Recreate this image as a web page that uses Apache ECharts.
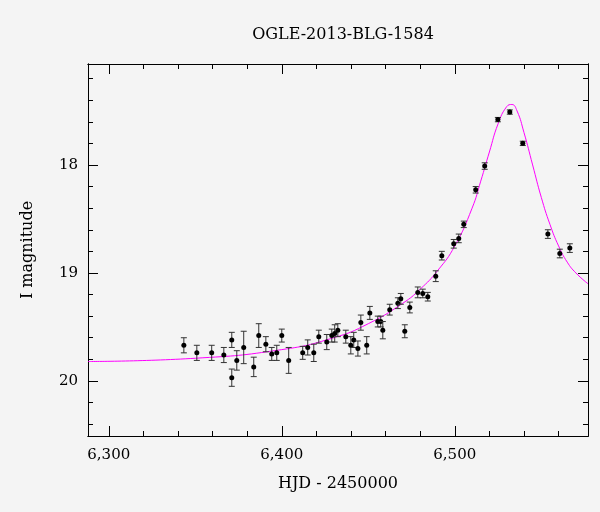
<!DOCTYPE html>
<html>
<head>
<meta charset="utf-8">
<script src="https://cdn.jsdelivr.net/npm/echarts@6/dist/echarts.min.js"></script>
<style>
  html, body { margin: 0; padding: 0; background: #f4f4f4; }
  #chart { width: 600px; height: 512px; }
</style>
</head>
<body>
<div id="chart"></div>
<script>
// observations: HJD-2450000, I mag, error
var obsHjd = [6343.4, 6350.9, 6359.5, 6366.5, 6371.1, 6371.1, 6374.0, 6378.0, 6383.8, 6386.7,
  6390.8, 6394.2, 6397.1, 6400.0, 6404.0, 6412.1, 6415.0, 6418.5, 6421.4, 6426.0,
  6428.9, 6430.6, 6432.4, 6437.0, 6439.9, 6441.6, 6444.0, 6445.7, 6449.1, 6450.9,
  6455.5, 6457.2, 6458.4, 6462.4, 6467.1, 6468.8, 6471.1, 6474.0, 6478.6, 6481.5,
  6484.4, 6489.0, 6492.5, 6499.4, 6502.3, 6505.2, 6512.1, 6517.3, 6524.9, 6531.8,
  6539.3, 6553.8, 6560.7, 6566.5];
var obsMag = [19.67, 19.74, 19.74, 19.76, 19.62, 19.97, 19.81, 19.69, 19.87, 19.58,
  19.66, 19.75, 19.74, 19.58, 19.81, 19.74, 19.69, 19.74, 19.59, 19.64,
  19.58, 19.56, 19.53, 19.59, 19.67, 19.62, 19.70, 19.46, 19.67, 19.37,
  19.45, 19.45, 19.53, 19.34, 19.28, 19.24, 19.54, 19.32, 19.18, 19.19,
  19.22, 19.03, 18.84, 18.73, 18.68, 18.55, 18.23, 18.01, 17.58, 17.51,
  17.80, 18.64, 18.82, 18.77];
var obsErr = [0.07, 0.07, 0.07, 0.07, 0.07, 0.08, 0.09, 0.15, 0.09, 0.11,
  0.07, 0.06, 0.07, 0.06, 0.12, 0.06, 0.07, 0.08, 0.06, 0.07,
  0.06, 0.08, 0.06, 0.06, 0.08, 0.07, 0.07, 0.07, 0.08, 0.06,
  0.05, 0.05, 0.08, 0.05, 0.05, 0.05, 0.06, 0.05, 0.05, 0.04,
  0.04, 0.05, 0.04, 0.04, 0.04, 0.03, 0.03, 0.03, 0.02, 0.02,
  0.02, 0.04, 0.04, 0.04];

// model curve
var modelHjd = [6288, 6350, 6400, 6430, 6450, 6470, 6480, 6490, 6500, 6510, 6515, 6520, 6525,
  6530, 6533, 6536, 6540, 6545, 6550, 6555, 6560, 6565, 6570, 6577];
var modelMag = [19.82, 19.79, 19.71, 19.60, 19.47, 19.28, 19.15, 18.98, 18.75, 18.40, 18.15, 17.88, 17.62,
  17.46, 17.44, 17.50, 17.70, 18.00, 18.30, 18.55, 18.75, 18.90, 19.00, 19.10];

var xMajor = [6300, 6400, 6500];
var yMajor = [18, 19, 20];

var xMin = 6288, xMax = 6577, yMin = 17.065, yMax = 20.51;
var xMinor = [], yMinor = [];
for (var v = 6300; v <= 6570; v += 20) xMinor.push(v);
for (var w = 172; w <= 204; w += 2) yMinor.push(w / 10);

var font = '"DejaVu Serif", "Liberation Serif", serif';
var line = { show: true, lineStyle: { color: '#000', width: 1 } };

function xAx(pos, ticks, len, labels) {
  return {
    type: 'value', position: pos, min: xMin, max: xMax,
    axisLine: line, splitLine: { show: false },
    axisTick: { inside: true, length: len, customValues: ticks, lineStyle: { color: '#000' } },
    axisLabel: labels ? { show: true, customValues: xMajor, color: '#000', fontFamily: font, fontSize: 15, margin: 12 } : { show: false },
    name: labels ? 'HJD - 2450000' : '', nameLocation: 'middle', nameGap: 40,
    nameTextStyle: { color: '#000', fontFamily: font, fontSize: 16 }
  };
}
function yAx(pos, ticks, len, labels) {
  return {
    type: 'value', position: pos, min: yMin, max: yMax, inverse: true,
    axisLine: line, splitLine: { show: false },
    axisTick: { inside: true, length: len, customValues: ticks, lineStyle: { color: '#000' } },
    axisLabel: labels ? { show: true, customValues: yMajor, color: '#000', fontFamily: font, fontSize: 15, margin: 10 } : { show: false },
    name: labels ? 'I magnitude' : '', nameLocation: 'middle', nameGap: 52,
    nameTextStyle: { color: '#000', fontFamily: font, fontSize: 16 }
  };
}

var points = obsHjd.map(function (x, i) { return [x, obsMag[i], obsErr[i]]; });
var model = modelHjd.map(function (x, i) { return [x, modelMag[i]]; });

var chart = echarts.init(document.getElementById('chart'));
chart.setOption({
  backgroundColor: '#f4f4f4',
  animation: false,
  title: { text: 'OGLE-2013-BLG-1584', left: 338, top: 22, textAlign: 'center',
    textStyle: { color: '#000', fontFamily: font, fontSize: 16, fontWeight: 'normal' } },
  grid: { left: 88, right: 12, top: 64, bottom: 76 },
  xAxis: [xAx('bottom', xMajor, 10, true), xAx('bottom', xMinor, 5, false),
          xAx('top', xMajor, 10, false), xAx('top', xMinor, 5, false)],
  yAxis: [yAx('left', yMajor, 10, true), yAx('left', yMinor, 5, false),
          yAx('right', yMajor, 10, false), yAx('right', yMinor, 5, false)],
  series: [
    {
      type: 'line', data: model, smooth: true, showSymbol: false,
      lineStyle: { color: '#ff00ff', width: 1 }, z: 2
    },
    {
      type: 'custom', data: points, z: 3,
      renderItem: function (params, api) {
        var x = api.value(0), y = api.value(1), e = api.value(2);
        var top = api.coord([x, y - e]);
        var bot = api.coord([x, y + e]);
        var c = api.coord([x, y]);
        var st = { stroke: '#333', lineWidth: 1 };
        return { type: 'group', children: [
          { type: 'line', shape: { x1: c[0], y1: top[1], x2: c[0], y2: bot[1] }, style: st },
          { type: 'line', shape: { x1: c[0] - 3, y1: top[1], x2: c[0] + 3, y2: top[1] }, style: st },
          { type: 'line', shape: { x1: c[0] - 3, y1: bot[1], x2: c[0] + 3, y2: bot[1] }, style: st },
          { type: 'circle', shape: { cx: c[0], cy: c[1], r: 2.5 }, style: { fill: '#000' } }
        ] };
      }
    }
  ]
});
</script>
</body>
</html>
